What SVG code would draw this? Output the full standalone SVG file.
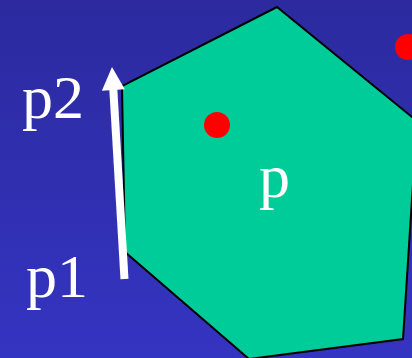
<svg xmlns="http://www.w3.org/2000/svg" width="412" height="358" viewBox="0 0 412 358">
<defs>
<linearGradient id="bg" x1="0" y1="0" x2="0" y2="1">
<stop offset="0" stop-color="#2C2A9E"/>
<stop offset="1" stop-color="#3434C2"/>
</linearGradient>
<marker id="ah" markerWidth="24" markerHeight="23" refX="1" refY="12" orient="auto" markerUnits="userSpaceOnUse" viewBox="0 0 24 24">
<path d="M0,0 L24,12 L0,24 Z" fill="#ffffff"/>
</marker>
<style>
.lbl{font-family:"Liberation Serif","Times New Roman",serif;font-size:62px;fill:#ffffff}
.pt{fill:#ff0000}
</style>
</defs>
<rect width="412" height="358" fill="url(#bg)"/>
<g id="polygon">
<polygon points="277,7 417,121 403,339 249,359 125,252 122,86" fill="#00CC99" stroke="#000000" stroke-width="2" stroke-linejoin="miter"/>
</g>
<g id="point-inside"><circle class="pt" cx="217" cy="125" r="13"/></g>
<g id="point-outside"><circle class="pt" cx="408" cy="47" r="13"/></g>
<g id="connectors">
<line x1="124.5" y1="279" x2="113.3" y2="89" stroke="#ffffff" stroke-width="8" marker-end="url(#ah)"/>
</g>
<g id="label-p2"><text class="lbl" x="22" y="118">p2</text></g>
<g id="label-p1"><text class="lbl" x="26" y="297">p1</text></g>
<g id="label-p"><text class="lbl" x="259" y="197">p</text></g>
</svg>
